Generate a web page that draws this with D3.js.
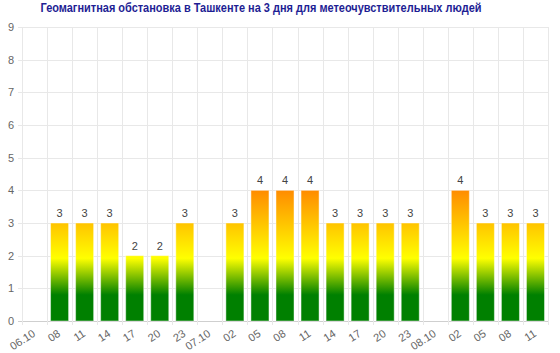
<!DOCTYPE html>
<html>
<head>
<meta charset="utf-8">
<script src="https://cdn.jsdelivr.net/npm/d3@7"></script>
<style>
  body { margin: 0; background: #fff; }
  svg { display: block; font-family: "Liberation Sans", Arial, sans-serif; }
  .axis text { fill: #666; font-size: 11px; }
  .axis path { display: none; }
</style>
</head>
<body>
<div id="chart"></div>
<script>
var categories = ["06.10", "08", "11", "14", "17", "20", "23", "07.10", "02", "05", "08 ", "11 ", "14 ", "17 ", "20 ", "23 ", "08.10", "02 ", "05 ", "08  ", "11  "];
var values = [null, 3, 3, 3, 2, 2, 3, null, 3, 4, 4, 4, 3, 3, 3, 3, null, 4, 3, 3, 3];
var yTicks = [0, 1, 2, 3, 4, 5, 6, 7, 8, 9];
var title = "Геомагнитная обстановка в Ташкенте на 3 дня для метеочувствительных людей";

var W = 560, H = 353,
    margin = { top: 27, right: 12, bottom: 32, left: 22 },
    width = W - margin.left - margin.right,
    height = H - margin.top - margin.bottom;

var svg = d3.select("#chart").append("svg")
    .attr("width", W)
    .attr("height", H)

var x = d3.scaleBand()
    .domain(categories)
    .range([0, width])

var y = d3.scaleLinear()
    .domain([0, 9])
    .range([height, 0])

// gradient follows the value scale, not each bar
var defs = svg.append("defs")
var grad = defs.append("linearGradient")
    .attr("id", "geo")
    .attr("gradientUnits", "userSpaceOnUse")
    .attr("x1", 0).attr("x2", 0)
    .attr("y1", y(0)).attr("y2", y(4))
grad.append("stop").attr("offset", 0).attr("stop-color", "#008000")
grad.append("stop").attr("offset", 0.2).attr("stop-color", "#008000")
grad.append("stop").attr("offset", 0.48).attr("stop-color", "#ffff00")
grad.append("stop").attr("offset", 1).attr("stop-color", "#ff8c00")

var g = svg.append("g")
    .attr("transform", "translate(" + margin.left + "," + margin.top + ")")

// horizontal grid
g.append("g")
    .selectAll("line")
    .data(yTicks)
    .enter().append("line")
    .attr("x1", -4)
    .attr("x2", width)
    .attr("y1", function (d) { return Math.round(y(d)) + 0.5 })
    .attr("y2", function (d) { return Math.round(y(d)) + 0.5 })
    .attr("stroke", function (d) { return d == 0 ? "#cfcfcf" : "#e8e8e8" })

// vertical grid on category edges
var edges = categories.map(function (c) { return x(c) }).concat([width])
g.append("g")
    .selectAll("line")
    .data(edges)
    .enter().append("line")
    .attr("x1", function (d) { return Math.round(d) + 0.5 })
    .attr("x2", function (d) { return Math.round(d) + 0.5 })
    .attr("y1", 0)
    .attr("y2", height + 4)
    .attr("stroke", "#e8e8e8")

g.append("g")
    .attr("class", "y-axis axis")
    .call(d3.axisLeft(y)
        .tickValues(yTicks)
        .tickSize(0)
        .tickPadding(8))

var xAxis = g.append("g")
    .attr("class", "x-axis axis")
    .attr("transform", "translate(0," + height + ")")
    .call(d3.axisBottom(x)
        .tickSize(0)
        .tickFormat(function (d) { return d.trim() }))

xAxis.selectAll("text")
    .attr("text-anchor", "end")
    .attr("dy", 0)
    .attr("transform", "translate(0,12) rotate(-33)")

var barW = x.bandwidth() * 0.72
var barData = categories.map(function (c, i) { return { cat: c, v: values[i] } })
    .filter(function (d) { return d.v != null })

g.selectAll("rect.bar")
    .data(barData)
    .enter().append("rect")
    .attr("class", "bar")
    .attr("x", function (d) { return x(d.cat) + (x.bandwidth() - barW) / 2 })
    .attr("width", barW)
    .attr("y", function (d) { return y(d.v) })
    .attr("height", function (d) { return y(0) - y(d.v) })
    .attr("fill", "url(#geo)")
    .attr("stroke", "rgba(255,255,255,0.45)")
    .attr("stroke-width", 1)

g.selectAll("text.val")
    .data(barData)
    .enter().append("text")
    .attr("class", "val")
    .attr("x", function (d) { return x(d.cat) + x.bandwidth() / 2 })
    .attr("y", function (d) { return y(d.v) - 6 })
    .attr("text-anchor", "middle")
    .attr("font-size", 11)
    .attr("fill", "#444")
    .text(function (d) { return d.v })

svg.append("text")
    .attr("x", 261)
    .attr("y", 12)
    .attr("text-anchor", "middle")
    .attr("font-size", 12.5)
    .attr("font-weight", "bold")
    .attr("fill", "#1e1e94")
    .attr("textLength", 441)
    .attr("lengthAdjust", "spacingAndGlyphs")
    .text(title)
</script>
</body>
</html>
